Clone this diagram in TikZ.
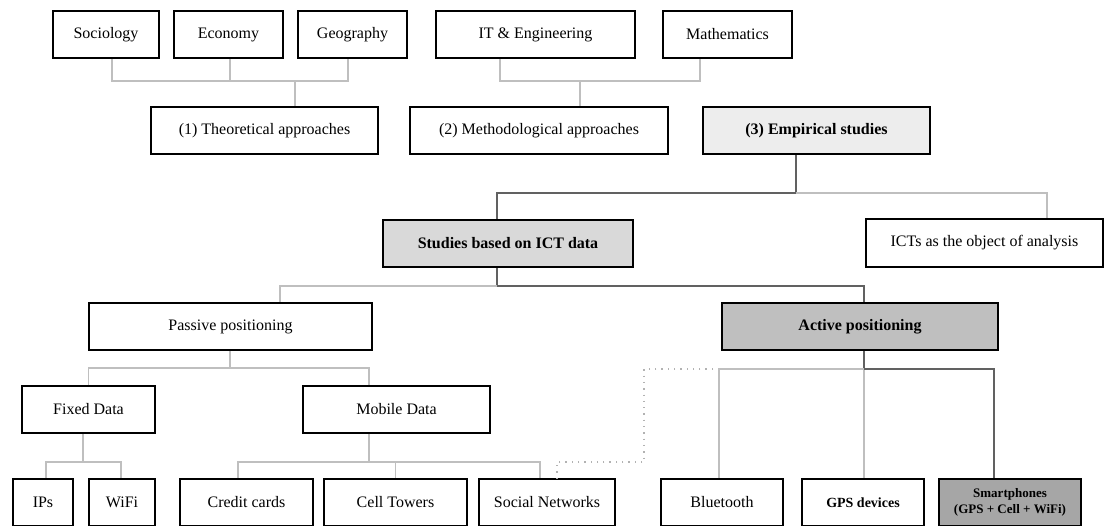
\documentclass[tikz,border=0pt]{standalone}
\usepackage{fontspec}
\setmainfont{Liberation Serif}
\newfontfamily\boxserif{Liberation Serif}
\begin{document}
\begin{tikzpicture}[x=1pt,y=-1pt,
  box/.style={draw=black, line width=1.8pt, fill=white, inner sep=2pt,
    minimum height=47pt, align=center, font=\boxserif\fontsize{16}{19}\selectfont},
  boldbox/.style={box, font=\boxserif\fontsize{16}{19}\selectfont\bfseries},
  lg/.style={draw=black!25, line width=1.7pt},
  dg/.style={draw=black!62, line width=1.7pt},
  dotline/.style={draw=black!30, line width=1.3pt, dash pattern=on 1.3pt off 5pt}]
\useasboundingbox (0,0) rectangle (1105,525);
\clip (0,0) rectangle (1105,525);
\fill[white] (0,0) rectangle (1105,525);

% row 1
\node[box, minimum width=106pt] (soc) at (106,34.5) {Sociology};
\node[box, minimum width=109pt] (eco) at (228.5,34.5) {Economy};
\node[box, minimum width=109pt] (geo) at (352.5,34.5) {Geography};
\node[box, minimum width=199pt] (ite) at (535.5,34.5) {IT \& Engineering};
\node[box, minimum width=129pt] (mat) at (727.5,34.5) {Mathematics};
% row 2
\node[box, minimum width=227pt] (the) at (264.5,130.5) {(1) Theoretical approaches};
\node[box, minimum width=258pt] (met) at (539,130.5) {(2) Methodological approaches};
\node[boldbox, minimum width=227pt, fill=black!7] (emp) at (816.5,130.5) {(3) Empirical studies};
% row 3
\node[boldbox, minimum width=250pt, fill=black!15] (stu) at (508,243.5) {Studies based on ICT data};
\node[box, minimum width=237pt, minimum height=48pt] (ict) at (984.5,243) {ICTs as the object of analysis};
% row 4
\node[box, minimum width=283pt] (pas) at (230.5,326.5) {Passive positioning};
\node[boldbox, minimum width=276pt, fill=black!25] (act) at (860,326.5) {Active positioning};
% row 5
\node[box, minimum width=133pt] (fix) at (88.5,409.5) {Fixed Data};
\node[box, minimum width=187pt] (mob) at (396.5,409.5) {Mobile Data};
% row 6
\node[box, minimum width=60pt] (ips) at (43,502.5) {IPs};
\node[box, minimum width=66pt] (wif) at (122,502.5) {WiFi};
\node[box, minimum width=133pt] (cre) at (246.5,502.5) {Credit cards};
\node[box, minimum width=143pt] (cel) at (395.5,502.5) {Cell Towers};
\node[box, minimum width=136pt] (snw) at (547,502.5) {Social Networks};
\node[box, minimum width=122pt] (blu) at (722,502.5) {Bluetooth};
\node[box, minimum width=122pt, font=\boxserif\fontsize{14}{17}\selectfont\bfseries] (gps) at (863,502.5) {GPS devices};
\node[box, minimum width=142pt, fill=black!35, font=\boxserif\fontsize{13}{15.5}\selectfont\bfseries] (sma) at (1010,502.5) {Smartphones\\(GPS + Cell + WiFi)};

% junction coordinates
\coordinate (j1) at (295,81);
\coordinate (j2) at (580,81);
\coordinate (j3) at (796,193);
\coordinate (j4) at (497,286);
\coordinate (j5) at (230,368);
\coordinate (j6) at (83,462);
\coordinate (j7) at (369,462);
\coordinate (j8) at (864,369);
\coordinate (d1) at (713,369);
\coordinate (d2) at (644,462);

% group 1
\draw[lg] ([xshift=6pt]soc.south) |- ([xshift=-4.5pt]geo.south |- j1) -- ([xshift=-4.5pt]geo.south);
\draw[lg] ([xshift=1.5pt]eco.south) -- ([xshift=1.5pt]eco.south |- j1);
\draw[lg] (j1) -- (the.north -| j1);
% group 2
\draw[lg] ([xshift=-35.5pt]ite.south) |- ([xshift=-27.5pt]mat.south |- j2) -- ([xshift=-27.5pt]mat.south);
\draw[lg] (j2) -- (met.north -| j2);
% empirical
\draw[dg] (emp.south -| j3) -- (j3) -| (stu.north -| j4);
\draw[lg] (j3) -| ([xshift=62.5pt]ict.north);
% studies
\draw[dg] (stu.south -| j4) -- (j4) -| ([xshift=4pt]act.north);
\draw[lg] (j4) -| ([xshift=49.5pt]pas.north);
% passive
\draw[lg] (pas.south -| j5) -- (j5);
\draw[lg] (fix.north) |- ([xshift=-27.5pt]mob.north |- j5) -- ([xshift=-27.5pt]mob.north);
% fixed
\draw[lg] (fix.south -| j6) -- (j6);
\draw[lg] ([xshift=3pt]ips.north) |- ([xshift=-1pt]wif.north |- j6) -- ([xshift=-1pt]wif.north);
% mobile
\draw[lg] (mob.south -| j7) -- (j7);
\draw[lg] ([xshift=-8.5pt]cre.north) |- ([xshift=-7pt]snw.north |- j7) -- ([xshift=-7pt]snw.north);
\draw[lg] (cel.north |- j7) -- (cel.north);
% active
\draw[dg] (act.south -| j8) -- (j8);
\draw[lg] ([xshift=-3pt]blu.north) |- (j8);
\draw[lg] (j8) -- (gps.north -| j8);
\draw[dg] (j8) -| ([xshift=-16pt]sma.north);
% dotted
\draw[dotline] (d1) -- (d1 -| d2) -- (d2) -| ([xshift=10pt]snw.north);
\end{tikzpicture}
\end{document}
